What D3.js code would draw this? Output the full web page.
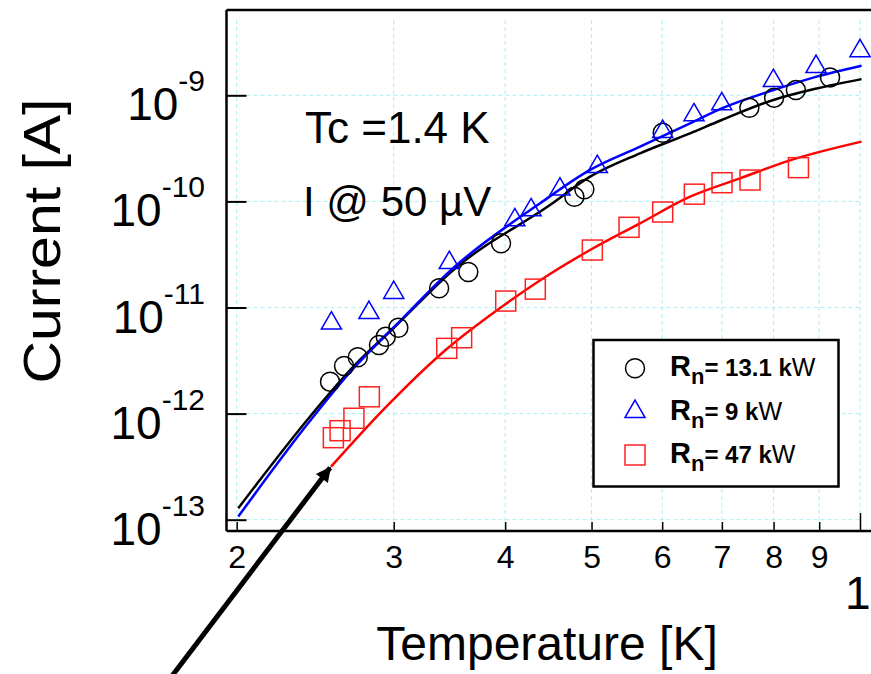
<!DOCTYPE html>
<html>
<head>
<meta charset="utf-8">
<script src="https://cdn.jsdelivr.net/npm/d3@7"></script>
<style>
  body { margin: 0; background: #fff; }
  svg { display: block; font-family: "Liberation Sans", Arial, sans-serif; }
</style>
</head>
<body>
<div id="chart"></div>
<script>
// measured points, Rn = 13.1 kOhm (circles)
const tCircle = [2.545, 2.639, 2.734, 2.888, 2.939, 3.036, 3.373, 3.637, 3.958, 4.783, 4.908, 6.008, 7.515, 8.011, 8.474, 9.256];
const iCircle = [2.0e-12, 2.81e-12, 3.4e-12, 4.43e-12, 5.3e-12, 6.45e-12, 1.52e-11, 2.16e-11, 4.03e-11, 1.107e-10, 1.30e-10, 4.44e-10, 7.64e-10, 9.5e-10, 1.12e-9, 1.47e-9];

// Rn = 9 kOhm (triangles)
const tTriangle = [2.554, 2.814, 3.0, 3.463, 4.101, 4.277, 4.608, 5.075, 6.008, 6.514, 6.998, 7.996, 8.927, 10.0];
const iTriangle = [7.1e-12, 8.93e-12, 1.38e-11, 2.64e-11, 6.68e-11, 8.3e-11, 1.30e-10, 2.12e-10, 4.54e-10, 6.52e-10, 8.28e-10, 1.37e-9, 1.86e-9, 2.62e-9];

// Rn = 47 kOhm (squares)
const tSquare = [2.567, 2.612, 2.707, 2.817, 3.440, 3.575, 4.006, 4.324, 5.010, 5.508, 6.008, 6.520, 7.003, 7.528, 8.53];
const iSquare = [5.93e-13, 6.90e-13, 9.04e-13, 1.44e-12, 4.12e-12, 5.19e-12, 1.15e-11, 1.49e-11, 3.48e-11, 5.70e-11, 7.94e-11, 1.17e-10, 1.50e-10, 1.59e-10, 2.08e-10];

// fit curves
const tFitBlack = [2.008, 2.416, 2.703, 3.023, 3.499, 4.491, 4.981, 5.667, 6.448, 6.998, 7.996, 8.944, 10.04];
const iFitBlack = [1.28e-13, 9.35e-13, 2.77e-12, 6.84e-12, 2.26e-11, 9.25e-11, 1.71e-10, 2.84e-10, 4.38e-10, 5.85e-10, 9.04e-10, 1.16e-9, 1.42e-9];
const tFitBlue = [2.008, 2.416, 2.703, 3.023, 3.499, 4.378, 4.981, 5.667, 6.448, 6.998, 7.996, 8.944, 10.04];
const iFitBlue = [1.07e-13, 8.5e-13, 2.66e-12, 6.92e-12, 2.36e-11, 9.6e-11, 1.98e-10, 3.28e-10, 5.45e-10, 7.54e-10, 1.12e-9, 1.50e-9, 1.90e-9];
const tFitRed = [2.552, 2.934, 3.440, 4.006, 4.491, 4.981, 5.667, 6.448, 7.337, 8.362, 10.04];
const iFitRed = [3.16e-13, 1.13e-12, 4.06e-12, 1.08e-11, 2.07e-11, 3.48e-11, 6.21e-11, 1.107e-10, 1.65e-10, 2.45e-10, 3.66e-10];

const xTicks = [2, 3, 4, 5, 6, 7, 8, 9, 10];
const yTicks = [1e-13, 1e-12, 1e-11, 1e-10, 1e-9];
const legendLabels = ["13.1", "9", "47"];

const width = 871, height = 674;
const plotLeft = 226.5, plotTop = 10, plotBottom = 531, plotRight = 871;

const svg = d3.select("#chart").append("svg")
  .attr("width", width)
  .attr("height", height);

const x = d3.scaleLog().domain([2, 10]).range([236.7, 860]);
const y = d3.scaleLog().domain([1e-13, 1e-9]).range([519.7, 95.3]);

const zip = (a, b) => a.map((v, i) => [v, b[i]]);

// grid
const grid = svg.append("g")
  .attr("stroke", "#a6f2f2")
  .attr("stroke-width", 1)
  .attr("stroke-dasharray", "4,3");
grid.selectAll("line.v").data(xTicks).enter().append("line")
  .attr("x1", d => x(d)).attr("x2", d => x(d))
  .attr("y1", plotTop + 10).attr("y2", plotBottom);
grid.selectAll("line.h").data(yTicks).enter().append("line")
  .attr("x1", plotLeft + 20).attr("x2", 862)
  .attr("y1", d => y(d)).attr("y2", d => y(d));

// axes
const xAxis = svg.append("g")
  .attr("transform", `translate(0,${plotBottom})`)
  .call(d3.axisBottom(x).tickValues(xTicks).tickSizeInner(-9).tickSizeOuter(0).tickPadding(14)
    .tickFormat(d => d === 10 ? "" : d));
xAxis.select(".domain").attr("d", `M${plotLeft},0H${plotRight}`);
xAxis.selectAll(".tick line").attr("stroke-width", 1.5)
  .attr("y2", d => d === 10 ? -18 : -9);
xAxis.selectAll(".tick text")
  .attr("font-size", 32).attr("font-family", "Liberation Sans, Arial, sans-serif")
  .attr("fill", "#000");
// the 10 label sits lower and runs off the right edge, as in the original
xAxis.append("text")
  .attr("x", 845).attr("y", 78)
  .attr("font-size", 46).attr("fill", "#000").attr("text-anchor", "start")
  .text("10");

const yAxis = svg.append("g")
  .attr("transform", `translate(${plotLeft},0)`)
  .call(d3.axisLeft(y).tickValues(yTicks).tickSizeInner(-20).tickSizeOuter(0).tickFormat(""));
yAxis.select(".domain").attr("d", `M0,${plotTop}V${plotBottom}`);
yAxis.selectAll(".tick line").attr("stroke-width", 2);

svg.selectAll(".domain").attr("stroke", "#000").attr("stroke-width", 2.5);

// top frame line
svg.append("line")
  .attr("x1", plotLeft).attr("x2", plotRight)
  .attr("y1", plotTop).attr("y2", plotTop)
  .attr("stroke", "#000").attr("stroke-width", 2.5);

// y tick labels with exponents
const yLab = svg.append("g").selectAll("text").data(yTicks).enter().append("text")
  .attr("x", 205).attr("y", d => y(d) + 25)
  .attr("text-anchor", "end").attr("fill", "#000");
yLab.append("tspan").attr("font-size", 46).text("10");
yLab.append("tspan").attr("font-size", 30).attr("dy", -29)
  .text(d => Math.round(Math.log10(d)));

// axis titles
svg.append("text")
  .attr("x", 547).attr("y", 660)
  .attr("text-anchor", "middle").attr("font-size", 48)
  .text("Temperature [K]");
svg.append("text")
  .attr("transform", "translate(60,241) rotate(-90)")
  .attr("text-anchor", "middle").attr("font-size", 52)
  .attr("textLength", 285).attr("lengthAdjust", "spacingAndGlyphs")
  .text("Current [A]");

// fit lines
const line = d3.line().x(d => x(d[0])).y(d => y(d[1])).curve(d3.curveMonotoneX);
const fits = [
  { pts: zip(tFitBlack, iFitBlack), color: "#000" },
  { pts: zip(tFitBlue, iFitBlue), color: "#0000ff" },
  { pts: zip(tFitRed, iFitRed), color: "#ff0000" }
];
svg.append("g").selectAll("path").data(fits).enter().append("path")
  .attr("d", d => line(d.pts))
  .attr("fill", "none")
  .attr("stroke", d => d.color)
  .attr("stroke-width", 2.5);

// markers
const tri = d3.symbol().type(d3.symbolTriangle).size(175);
svg.append("g").selectAll("circle").data(zip(tCircle, iCircle)).enter().append("circle")
  .attr("cx", d => x(d[0])).attr("cy", d => y(d[1])).attr("r", 9.5)
  .attr("fill", "none").attr("stroke", "#000").attr("stroke-width", 1.5);
svg.append("g").selectAll("path").data(zip(tTriangle, iTriangle)).enter().append("path")
  .attr("d", tri)
  .attr("transform", d => `translate(${x(d[0])},${y(d[1])})`)
  .attr("fill", "none").attr("stroke", "#0000ff").attr("stroke-width", 1.5);
svg.append("g").selectAll("rect").data(zip(tSquare, iSquare)).enter().append("rect")
  .attr("x", d => x(d[0]) - 10).attr("y", d => y(d[1]) - 10)
  .attr("width", 20).attr("height", 20)
  .attr("fill", "none").attr("stroke", "#ff2020").attr("stroke-width", 1.5);

// annotations
svg.append("text").attr("x", 305).attr("y", 143).attr("font-size", 44).text("Tc =1.4 K");
svg.append("text").attr("x", 303).attr("y", 216).attr("font-size", 42).text("I @ 50 \u00b5V");

// legend
const lg = svg.append("g");
lg.append("rect")
  .attr("x", 593.5).attr("y", 340).attr("width", 245).attr("height", 146.5)
  .attr("fill", "#fff").attr("stroke", "#000").attr("stroke-width", 2.5);
const rowY = [368.3, 411.7, 455];
lg.append("circle").attr("cx", 635).attr("cy", rowY[0]).attr("r", 9.5)
  .attr("fill", "none").attr("stroke", "#000").attr("stroke-width", 1.5);
lg.append("path").attr("d", tri).attr("transform", `translate(635,${rowY[1]})`)
  .attr("fill", "none").attr("stroke", "#0000ff").attr("stroke-width", 1.5);
lg.append("rect").attr("x", 625).attr("y", rowY[2] - 10).attr("width", 20).attr("height", 20)
  .attr("fill", "none").attr("stroke", "#ff2020").attr("stroke-width", 1.5);
const lt = lg.selectAll("text").data(legendLabels).enter().append("text")
  .attr("x", 670).attr("y", (d, i) => rowY[i] + 8)
  .attr("font-weight", "bold").attr("fill", "#000");
lt.append("tspan").attr("font-size", 29).text("R");
lt.append("tspan").attr("font-size", 22).attr("dy", 8).text("n");
lt.append("tspan").attr("font-size", 24).attr("dy", -8).text(d => "= " + d + " k");
lt.append("tspan").attr("font-size", 25).attr("font-weight", "normal").text("W");

// arrow pointing at the start of the red fit
svg.append("defs").append("marker")
  .attr("id", "head").attr("viewBox", "0 0 10 10")
  .attr("refX", 9).attr("refY", 5)
  .attr("markerWidth", 3.4).attr("markerHeight", 3)
  .attr("orient", "auto")
  .append("path").attr("d", "M0,0L10,5L0,10Z").attr("fill", "#000");
const tipX = x(tFitRed[0]) - 1, tipY = y(iFitRed[0]) + 1;
svg.append("line")
  .attr("x1", 172).attr("y1", 676)
  .attr("x2", tipX).attr("y2", tipY)
  .attr("stroke", "#000").attr("stroke-width", 5)
  .attr("marker-end", "url(#head)");
</script>
</body>
</html>
